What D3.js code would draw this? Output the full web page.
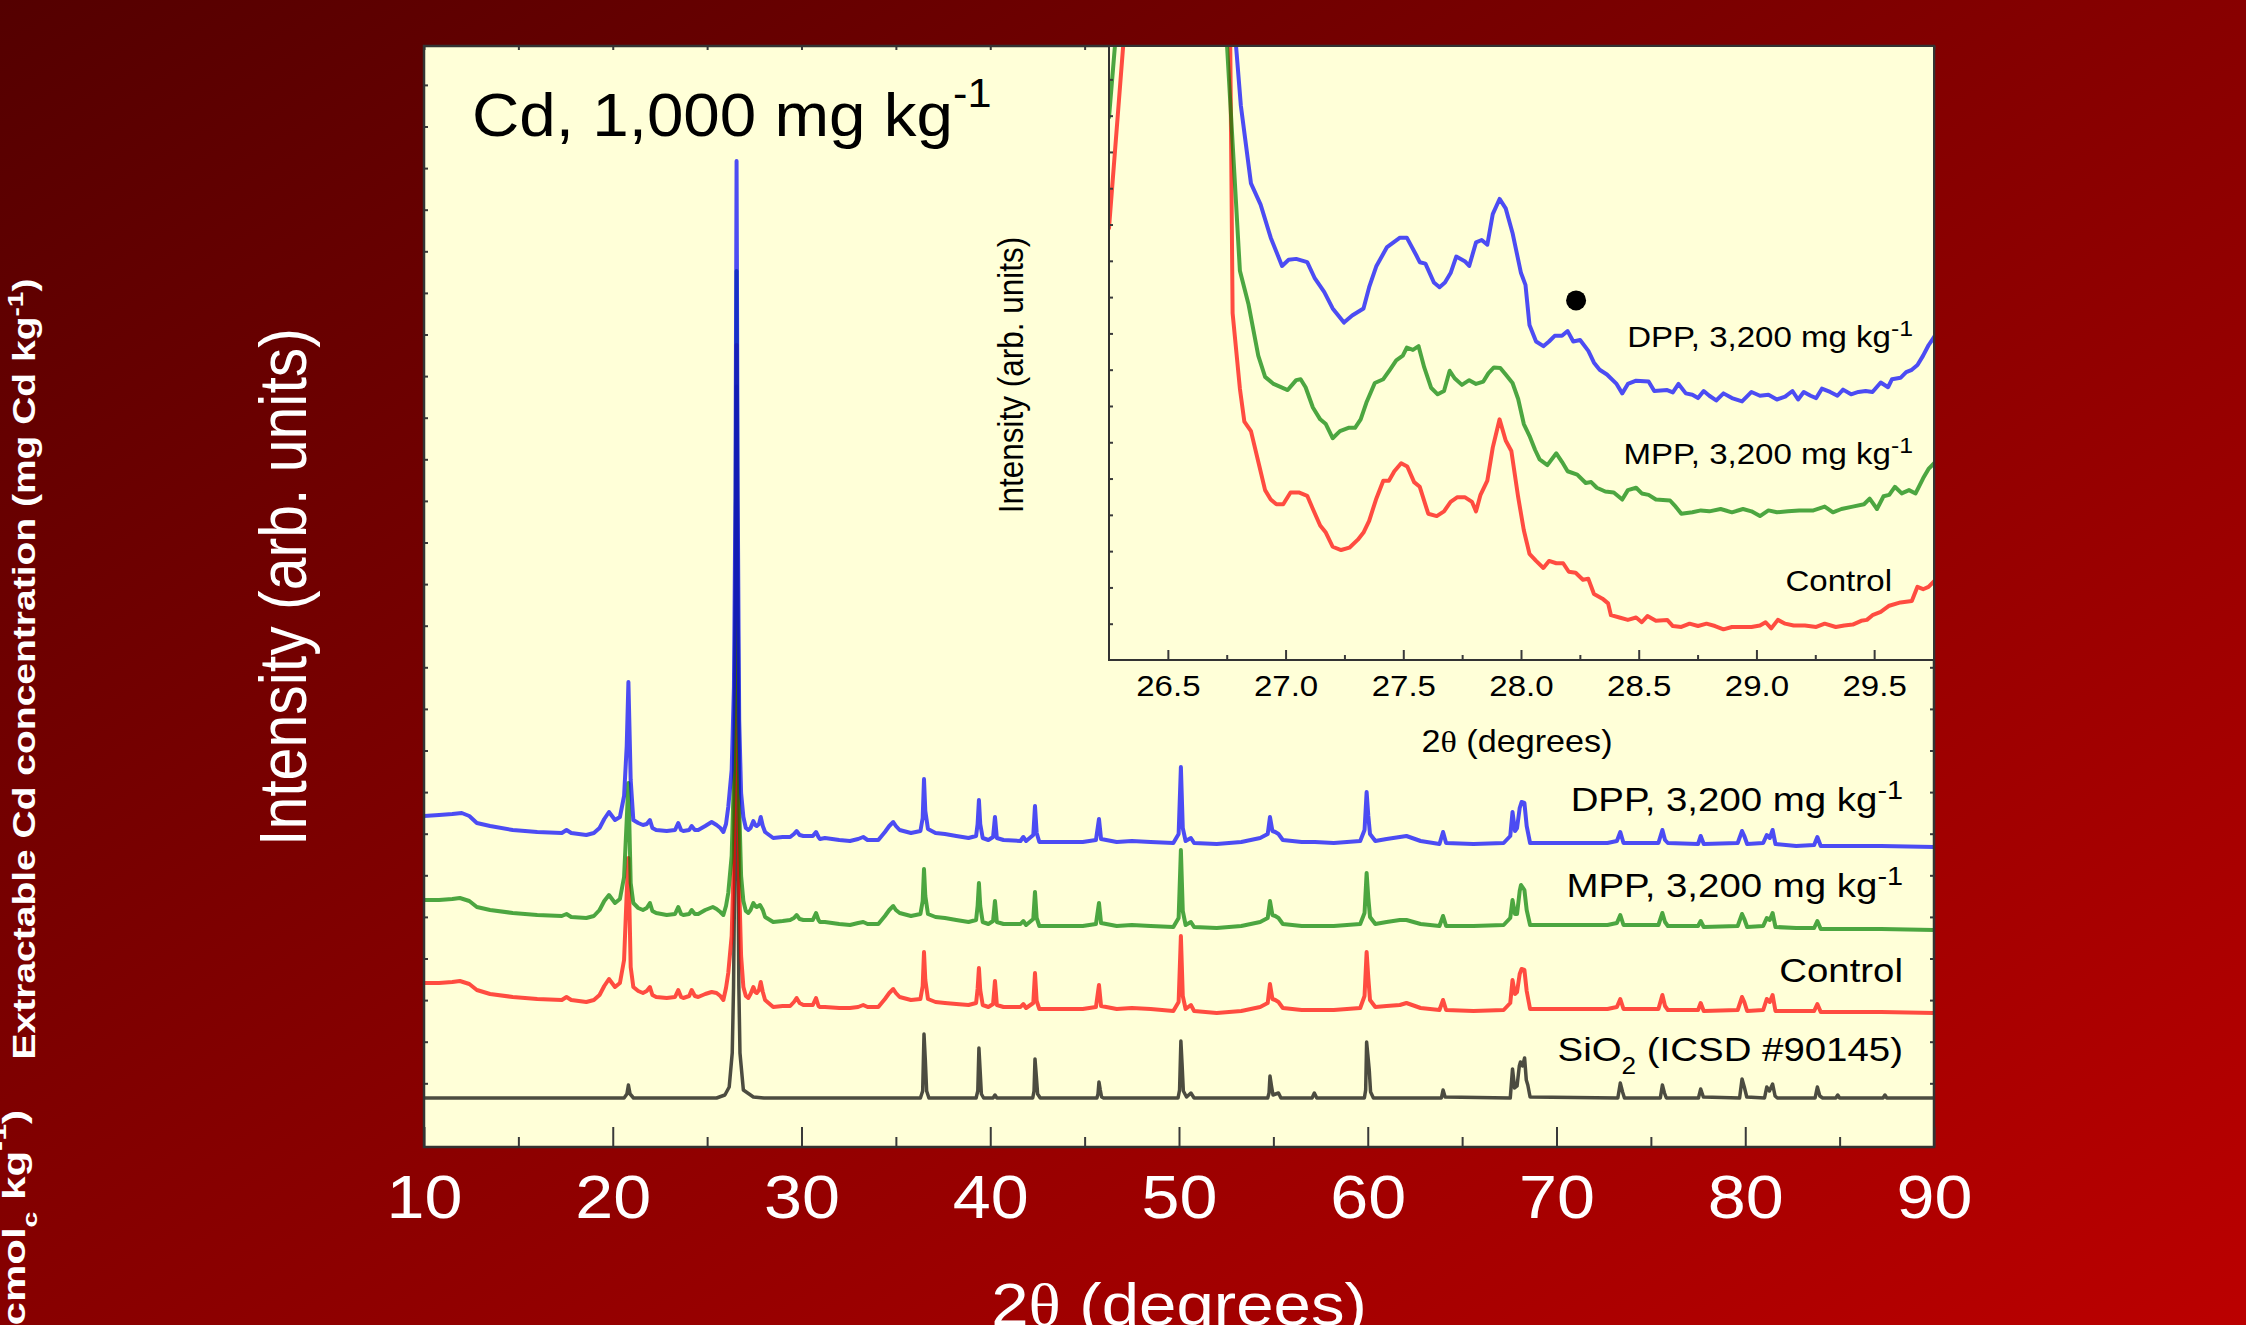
<!DOCTYPE html>
<html><head><meta charset="utf-8">
<script src="https://cdn.jsdelivr.net/npm/d3@7"></script>
<style>html,body{margin:0;padding:0;overflow:hidden;background:#700000}</style>
</head><body>
<svg id="chart" width="2246" height="1325"></svg>
<script>
// ---------- DATA ----------
// Main pattern: [2theta (deg), intensity (arb. units, stacked)]
const dppMain = [[10.0,330],[10.8,331],[11.5,332],[12.0,333],[12.4,330],[12.8,323],[13.5,320],[14.7,316],[16.0,314],[17.3,313],[17.55,316],[17.8,313],[18.6,311],[19.0,313],[19.3,318],[19.55,327],[19.8,334],[20.12,326],[20.38,329],[20.6,350],[20.74,400],[20.83,464],[20.95,366],[21.09,326],[21.35,323],[21.6,321],[21.8,322],[21.97,326],[22.1,318],[22.3,316],[22.86,315],[23.3,316],[23.47,323],[23.62,316],[23.74,315],[24.05,316],[24.18,320],[24.35,316],[24.53,316],[24.9,320],[25.24,324],[25.5,321],[25.7,318],[25.86,314],[26.0,322],[26.12,339],[26.3,376],[26.42,459],[26.5,650],[26.56,985],[26.62,650],[26.7,426],[26.8,353],[26.92,329],[27.05,318],[27.18,316],[27.3,318],[27.45,325],[27.55,321],[27.63,320],[27.75,322],[27.84,329],[27.95,320],[28.07,314],[28.5,308],[29.0,309],[29.4,309],[29.6,312],[29.74,315],[29.9,311],[30.1,310],[30.6,310],[30.77,314],[30.9,309],[30.98,307],[31.24,308],[32.0,306],[32.57,305],[33.0,307],[33.27,309],[33.5,306],[34.07,306],[34.42,314],[34.65,320],[34.86,324],[35.0,320],[35.2,316],[35.8,313],[36.3,315],[36.42,328],[36.49,367],[36.56,335],[36.7,317],[37.1,313],[37.6,312],[38.2,310],[38.85,308],[39.25,310],[39.33,322],[39.40,346],[39.47,322],[39.6,308],[39.9,306],[40.15,309],[40.25,329],[40.35,308],[40.7,306],[41.6,305],[41.75,309],[41.9,305],[42.28,311],[42.37,340],[42.46,313],[42.6,304],[43.5,304],[44.9,304],[45.6,306],[45.76,327],[45.87,307],[46.7,304],[47.5,305],[48.5,304],[49.7,303],[49.98,312],[50.1,379],[50.2,318],[50.35,305],[50.63,308],[50.8,303],[52.0,302],[53.3,304],[54.3,308],[54.7,312],[54.82,329],[54.95,315],[55.1,314],[55.27,312],[55.5,306],[56.5,304],[57.2,304],[58.2,303],[59.6,305],[59.83,316],[59.94,354],[60.03,330],[60.12,312],[60.4,305],[61.0,307],[61.7,309],[62.05,310],[62.8,305],[63.8,302],[63.99,314],[64.15,303],[65.6,302],[67.2,303],[67.55,310],[67.67,334],[67.8,315],[67.91,318],[68.05,338],[68.15,344],[68.3,343],[68.42,320],[68.6,303],[69.0,303],[71.0,303],[72.7,303],[73.2,305],[73.38,314],[73.55,303],[75.4,303],[75.61,316],[75.75,306],[75.9,303],[77.5,302],[77.64,310],[77.8,302],[79.6,303],[79.83,315],[79.95,310],[80.1,302],[80.95,303],[81.14,311],[81.3,308],[81.45,316],[81.6,302],[82.7,300],[83.65,301],[83.82,309],[84.0,300],[87.2,300],[90.0,299]];
const mppMain = [[10.0,246],[10.8,246],[11.5,247],[11.9,248],[12.4,245],[12.8,239],[13.5,236],[14.7,233],[16.0,231],[17.3,230],[17.55,232],[17.8,229],[18.6,228],[19.0,230],[19.3,236],[19.55,245],[19.8,251],[20.12,243],[20.38,247],[20.6,269],[20.74,326],[20.83,363],[20.95,263],[21.09,243],[21.35,238],[21.6,236],[21.8,238],[21.97,243],[22.1,235],[22.3,233],[22.86,231],[23.3,232],[23.47,239],[23.62,232],[23.74,231],[24.05,232],[24.18,236],[24.35,232],[24.53,232],[24.9,236],[25.3,239],[25.5,237],[25.7,234],[25.86,231],[26.0,240],[26.12,253],[26.3,290],[26.42,370],[26.5,560],[26.56,875],[26.62,560],[26.7,340],[26.8,270],[26.92,245],[27.05,235],[27.18,233],[27.3,236],[27.45,243],[27.55,240],[27.63,239],[27.72,240],[27.8,241],[27.95,236],[28.07,229],[28.5,224],[29.0,225],[29.4,226],[29.6,228],[29.74,231],[29.9,227],[30.1,226],[30.6,226],[30.77,233],[30.9,226],[30.98,224],[31.24,224],[32.0,222],[32.57,221],[33.0,223],[33.27,224],[33.5,222],[34.07,222],[34.42,230],[34.65,236],[34.86,240],[35.0,236],[35.2,233],[35.8,230],[36.3,232],[36.42,245],[36.49,277],[36.56,250],[36.7,232],[37.1,229],[37.6,228],[38.2,226],[38.85,224],[39.25,226],[39.33,240],[39.40,263],[39.47,240],[39.6,224],[39.9,222],[40.15,225],[40.25,245],[40.35,224],[40.7,222],[41.6,222],[41.75,225],[41.9,221],[42.28,227],[42.37,254],[42.46,228],[42.6,220],[43.5,220],[44.9,220],[45.6,222],[45.76,243],[45.87,223],[46.7,220],[47.5,221],[48.5,220],[49.7,219],[49.98,228],[50.1,296],[50.2,235],[50.35,221],[50.63,224],[50.8,219],[52.0,218],[53.3,220],[54.3,224],[54.7,228],[54.82,245],[54.95,231],[55.1,230],[55.27,228],[55.5,222],[56.5,220],[57.2,220],[58.2,220],[59.6,222],[59.83,233],[59.94,273],[60.03,248],[60.12,229],[60.4,222],[61.0,224],[61.7,226],[62.05,226],[62.8,222],[63.8,220],[63.99,230],[64.15,220],[65.6,220],[67.2,221],[67.55,228],[67.67,246],[67.8,232],[67.91,232],[68.05,255],[68.12,261],[68.3,256],[68.42,236],[68.6,221],[69.0,221],[71.0,221],[72.7,221],[73.2,223],[73.38,231],[73.55,221],[75.4,221],[75.61,233],[75.75,224],[75.9,220],[77.5,220],[77.64,225],[77.8,219],[79.6,220],[79.83,232],[79.95,227],[80.1,219],[80.95,220],[81.14,228],[81.3,226],[81.45,233],[81.6,219],[82.7,218],[83.65,218],[83.82,225],[84.0,217],[87.2,217],[90.0,216]];
const controlMain = [[10.0,163],[10.8,163],[11.5,164],[11.9,165],[12.4,162],[12.8,156],[13.5,152],[14.7,149],[16.0,147],[17.3,146],[17.55,149],[17.8,146],[18.6,144],[19.0,146],[19.3,151],[19.55,160],[19.8,167],[20.12,159],[20.38,163],[20.6,186],[20.74,253],[20.83,288],[20.95,179],[21.09,159],[21.35,155],[21.6,153],[21.8,155],[21.97,159],[22.1,151],[22.3,149],[22.86,148],[23.3,149],[23.47,156],[23.62,149],[23.74,148],[24.05,150],[24.18,156],[24.35,150],[24.53,149],[24.9,152],[25.24,154],[25.5,153],[25.7,150],[25.86,146],[26.0,158],[26.12,173],[26.3,210],[26.42,290],[26.5,490],[26.56,801],[26.62,490],[26.7,260],[26.8,190],[26.92,159],[27.05,150],[27.18,148],[27.3,152],[27.45,159],[27.55,154],[27.63,153],[27.75,156],[27.84,164],[27.95,154],[28.07,146],[28.5,139],[29.0,140],[29.4,140],[29.6,144],[29.74,148],[29.9,143],[30.1,141],[30.6,141],[30.77,148],[30.9,140],[30.98,139],[31.24,139],[32.0,138],[32.57,138],[33.0,139],[33.27,141],[33.5,139],[34.07,139],[34.42,147],[34.65,153],[34.86,157],[35.0,153],[35.2,149],[35.8,146],[36.3,147],[36.42,160],[36.49,194],[36.56,166],[36.7,147],[37.1,144],[37.6,143],[38.2,142],[38.85,141],[39.25,143],[39.33,157],[39.40,178],[39.47,156],[39.6,141],[39.9,139],[40.15,142],[40.25,165],[40.35,141],[40.7,139],[41.6,139],[41.75,142],[41.9,138],[42.28,143],[42.37,173],[42.46,145],[42.6,137],[43.5,137],[44.9,137],[45.6,139],[45.76,161],[45.87,140],[46.7,137],[47.5,138],[48.5,137],[49.7,135],[49.98,144],[50.1,210],[50.2,150],[50.35,137],[50.63,141],[50.8,135],[52.0,133],[53.3,135],[54.3,139],[54.7,143],[54.82,162],[54.95,147],[55.1,146],[55.27,144],[55.5,138],[56.5,136],[57.2,136],[58.2,136],[59.6,138],[59.83,150],[59.94,194],[60.03,168],[60.12,146],[60.4,139],[61.0,140],[61.7,141],[62.05,143],[62.8,138],[63.8,136],[63.99,146],[64.15,136],[65.6,135],[67.2,136],[67.55,143],[67.67,166],[67.8,152],[67.91,154],[68.05,172],[68.15,177],[68.3,176],[68.42,155],[68.6,137],[69.0,137],[71.0,137],[72.7,137],[73.2,139],[73.38,147],[73.55,137],[75.4,137],[75.61,151],[75.75,140],[75.9,136],[77.5,136],[77.64,143],[77.8,135],[79.6,136],[79.83,149],[79.95,144],[80.1,135],[80.95,136],[81.14,147],[81.3,144],[81.45,151],[81.6,135],[82.7,135],[83.65,135],[83.82,142],[84.0,134],[87.2,134],[90.0,133]];
const sio2Main = [[10.0,48],[20.6,48],[20.75,52],[20.83,61],[20.92,52],[21.1,48],[25.5,48],[25.94,51],[26.17,59],[26.33,93],[26.4,159],[26.47,292],[26.56,760],[26.63,300],[26.68,160],[26.74,93],[26.92,56],[27.45,49],[28.0,48],[36.3,48],[36.42,55],[36.49,112],[36.56,86],[36.63,55],[36.75,48],[39.25,48],[39.34,55],[39.40,98],[39.46,77],[39.53,52],[39.65,48],[40.15,48],[40.25,51],[40.35,48],[42.25,48],[42.32,55],[42.37,87],[42.44,70],[42.51,52],[42.65,48],[45.65,48],[45.71,52],[45.76,64],[45.83,56],[45.9,49],[46.0,48],[49.95,48],[50.03,56],[50.1,105],[50.16,83],[50.23,55],[50.4,49],[50.63,53],[50.8,48],[54.7,48],[54.77,53],[54.82,70],[54.9,60],[54.98,51],[55.27,53],[55.4,48],[57.05,48],[57.17,53],[57.3,48],[59.82,48],[59.89,56],[59.94,104],[60.0,92],[60.08,76],[60.15,54],[60.3,48],[63.9,48],[63.99,56],[64.1,49],[67.55,48],[67.67,77],[67.78,58],[67.91,60],[68.03,80],[68.09,84],[68.2,80],[68.31,88],[68.4,66],[68.48,61],[68.6,49],[73.25,48],[73.38,63],[73.5,54],[73.6,48],[75.5,48],[75.61,61],[75.72,53],[75.82,48],[77.52,48],[77.64,57],[77.78,49],[79.7,48],[79.83,67],[79.95,59],[80.08,49],[81.02,48],[81.14,59],[81.28,55],[81.45,62],[81.58,50],[81.7,48],[83.7,48],[83.82,59],[83.95,50],[84.1,48],[84.8,48],[84.9,51],[85.0,48],[87.3,48],[87.4,51],[87.5,48],[90.0,48]];

// Inset (26.25–29.75 deg, magnified intensity)
const dppInset = [[26.24,1280],[26.3,1700],[26.6,3000],[26.72,2000],[26.789,1305],[26.810,1175],[26.853,1010],[26.894,965],[26.937,895],[26.985,835],[27.013,848],[27.045,850],[27.092,843],[27.123,810],[27.164,780],[27.200,745],[27.248,715],[27.283,730],[27.331,745],[27.355,790],[27.386,835],[27.431,875],[27.486,895],[27.515,895],[27.558,855],[27.570,843],[27.594,840],[27.630,800],[27.654,790],[27.677,800],[27.701,820],[27.725,855],[27.761,845],[27.780,835],[27.809,885],[27.833,890],[27.857,880],[27.880,945],[27.909,977],[27.935,957],[27.964,905],[28.000,820],[28.019,795],[28.036,710],[28.064,675],[28.095,665],[28.119,675],[28.143,687],[28.174,687],[28.198,697],[28.222,675],[28.251,678],[28.286,655],[28.310,630],[28.334,615],[28.365,605],[28.406,585],[28.430,565],[28.454,585],[28.489,592],[28.542,590],[28.566,570],[28.621,572],[28.645,567],[28.669,585],[28.700,565],[28.728,562],[28.752,555],[28.776,570],[28.800,560],[28.829,550],[28.860,565],[28.896,555],[28.939,548],[28.979,568],[29.015,560],[29.051,562],[29.087,552],[29.122,558],[29.153,570],[29.177,552],[29.201,568],[29.230,560],[29.254,555],[29.278,575],[29.313,568],[29.344,560],[29.368,573],[29.402,563],[29.433,568],[29.464,570],[29.493,568],[29.528,588],[29.559,578],[29.576,595],[29.612,598],[29.636,610],[29.660,615],[29.684,625],[29.708,645],[29.731,667],[29.755,685]];
const mppInset = [[26.25,1150],[26.275,1300],[26.4,2200],[26.6,2800],[26.7,2000],[26.751,1305],[26.782,1035],[26.806,825],[26.842,755],[26.884,645],[26.913,600],[26.949,585],[27.009,572],[27.045,593],[27.064,595],[27.085,578],[27.116,535],[27.147,510],[27.171,500],[27.200,470],[27.231,485],[27.267,492],[27.295,492],[27.319,510],[27.343,545],[27.379,587],[27.415,595],[27.443,615],[27.470,635],[27.498,645],[27.515,662],[27.541,657],[27.565,665],[27.589,620],[27.618,577],[27.646,563],[27.673,570],[27.697,613],[27.718,597],[27.749,583],[27.780,593],[27.809,585],[27.840,590],[27.862,608],[27.885,620],[27.912,619],[27.935,605],[27.964,587],[27.988,553],[28.012,500],[28.036,475],[28.060,445],[28.079,425],[28.112,413],[28.150,438],[28.174,420],[28.198,400],[28.239,393],[28.275,375],[28.298,377],[28.322,365],[28.358,357],[28.394,355],[28.430,340],[28.454,360],[28.489,365],[28.513,353],[28.542,350],[28.573,340],[28.633,338],[28.657,325],[28.681,310],[28.728,313],[28.764,317],[28.800,315],[28.848,320],[28.896,313],[28.943,320],[28.979,315],[29.015,305],[29.051,317],[29.087,313],[29.134,315],[29.182,317],[29.242,317],[29.290,325],[29.325,313],[29.361,320],[29.409,325],[29.457,330],[29.481,342],[29.512,320],[29.540,347],[29.564,350],[29.588,367],[29.617,353],[29.648,360],[29.676,353],[29.708,385],[29.731,405],[29.755,417]];
const controlInset = [[26.25,915],[26.31,1300],[26.45,2000],[26.6,2600],[26.72,1800],[26.765,1305],[26.775,735],[26.806,575],[26.825,505],[26.853,485],[26.889,410],[26.913,360],[26.937,340],[26.961,330],[26.990,330],[27.021,355],[27.056,355],[27.092,348],[27.116,320],[27.147,285],[27.171,270],[27.200,240],[27.236,233],[27.271,238],[27.307,255],[27.331,270],[27.355,295],[27.384,340],[27.415,380],[27.439,380],[27.462,400],[27.491,417],[27.517,410],[27.546,377],[27.570,367],[27.606,310],[27.642,305],[27.673,315],[27.701,335],[27.730,345],[27.761,345],[27.792,335],[27.809,315],[27.828,350],[27.857,380],[27.880,450],[27.909,510],[27.935,465],[27.959,443],[27.988,345],[28.012,275],[28.036,225],[28.064,210],[28.095,195],[28.119,210],[28.150,205],[28.179,205],[28.203,187],[28.232,185],[28.263,170],[28.286,172],[28.310,140],[28.346,130],[28.370,120],[28.382,95],[28.418,90],[28.454,85],[28.489,90],[28.513,80],[28.537,93],[28.573,83],[28.621,85],[28.645,72],[28.681,70],[28.716,77],[28.752,72],[28.788,77],[28.824,72],[28.860,65],[28.896,70],[28.931,70],[28.979,70],[29.015,73],[29.039,80],[29.063,67],[29.091,85],[29.122,77],[29.158,73],[29.206,73],[29.254,70],[29.290,77],[29.337,70],[29.373,73],[29.409,75],[29.445,83],[29.469,85],[29.493,95],[29.528,102],[29.564,115],[29.612,122],[29.660,125],[29.684,155],[29.708,150],[29.731,155],[29.755,167]];
const insetMarker = [[28.234, 762]];

const mainXTicks = [10,20,30,40,50,60,70,80,90];
const mainXMinor = [15,25,35,45,55,65,75,85];
const insetXTicks = [26.5,27.0,27.5,28.0,28.5,29.0,29.5];
const insetXMinor = [26.75,27.25,27.75,28.25,28.75,29.25];

const titleText = ["Cd, 1,000 mg kg", "-1"];
const seriesLabel = {
  dpp: ["DPP, 3,200 mg kg", "-1"],
  mpp: ["MPP, 3,200 mg kg", "-1"],
  control: ["Control"],
  sio2: ["SiO", "2", " (ICSD #90145)"]
};
const yTitle = "Intensity (arb. units)";
const xTitle = ["2", "\u03B8", " (degrees)"];

// ---------- DRAWING ----------
const W = 2246, H = 1325;
const FONT = "'Liberation Sans', Arial, Helvetica, sans-serif";
const SX = 1.12; // horizontal stretch of the original artwork
const svg = d3.select('#chart');
const defs = svg.append('defs');
const g0 = defs.append('linearGradient').attr('id','bg').attr('x1',0).attr('y1',0).attr('x2',1).attr('y2',1);
g0.append('stop').attr('offset','0%').attr('stop-color','#540000');
g0.append('stop').attr('offset','100%').attr('stop-color','#bb0000');
svg.append('rect').attr('width',W).attr('height',H).attr('fill','url(#bg)');

const P = {l:424, r:1934, t:46, b:1147};
const x = d3.scaleLinear().domain([10,90]).range([P.l,P.r]);
const y = d3.scaleLinear().domain([0,1100]).range([1146,46]);

const I = {l:1109, r:1933, t:47, b:660};
const xi = d3.scaleLinear().domain([26.25,29.75]).range([I.l,I.r]);
const yi = d3.scaleLinear().domain([0,1299]).range([I.b,I.t]);

defs.append('clipPath').attr('id','clipMain').append('rect')
  .attr('x',P.l).attr('y',P.t).attr('width',P.r-P.l).attr('height',P.b-P.t);
defs.append('clipPath').attr('id','clipInset').append('rect')
  .attr('x',I.l+1).attr('y',I.t).attr('width',I.r-I.l-1).attr('height',I.b-I.t-1);

svg.append('rect').attr('x',P.l).attr('y',P.t).attr('width',P.r-P.l).attr('height',P.b-P.t).attr('fill','#ffffd8');

function styleAxis(g){ g.select('.domain').remove(); g.selectAll('line').attr('stroke','#3a3a3a').attr('stroke-width',2); }

// main ticks
svg.append('g').attr('transform',`translate(0,${P.b})`)
  .call(d3.axisBottom(x).tickValues(mainXMinor).tickSize(-10).tickFormat(''))
  .call(styleAxis);
const xAx = svg.append('g').attr('transform',`translate(0,${P.b})`)
  .call(d3.axisBottom(x).tickValues(mainXTicks).tickSize(-20).tickFormat(d3.format('d')))
  .call(styleAxis);
xAx.selectAll('text').attr('y',0).attr('dy',0)
  .attr('transform',`translate(0,71) scale(${SX},1)`)
  .attr('fill','#fff').attr('font-size',61).attr('font-family',FONT);
const yTicks = d3.range(62.7, 1100, 41.6);
svg.append('g').attr('transform',`translate(${P.l},0)`)
  .call(d3.axisLeft(y).tickValues(yTicks).tickSize(-4).tickFormat('')).call(styleAxis);
svg.append('g').attr('transform',`translate(${P.r},0)`)
  .call(d3.axisRight(y).tickValues(yTicks).tickSize(-4).tickFormat('')).call(styleAxis);
svg.append('g').attr('transform',`translate(0,${P.t})`)
  .call(d3.axisTop(x).tickValues(d3.range(10,91,5)).tickSize(-4).tickFormat('')).call(styleAxis);

// main curves
const line = d3.line().x(d=>x(d[0])).y(d=>y(d[1]));
const main = svg.append('g').attr('clip-path','url(#clipMain)');
const mainSeries = [
  {d:sio2Main, c:'#000000', w:3.5},
  {d:controlMain, c:'#ff0000', w:4},
  {d:mppMain, c:'#008000', w:4},
  {d:dppMain, c:'#0000ff', w:4}
];
main.selectAll('path.s').data(mainSeries).join('path').attr('class','s')
  .attr('d',s=>line(s.d)).attr('fill','none').attr('stroke',s=>s.c)
  .attr('stroke-opacity',0.7).attr('stroke-width',s=>s.w)
  .attr('stroke-linejoin','round').attr('stroke-linecap','round');

// frame
svg.append('rect').attr('x',P.l).attr('y',P.t).attr('width',P.r-P.l).attr('height',P.b-P.t)
  .attr('fill','none').attr('stroke','#333').attr('stroke-width',2.5);

// ----- inset -----
svg.append('rect').attr('x',I.l).attr('y',I.t).attr('width',I.r-I.l).attr('height',I.b-I.t).attr('fill','#ffffd8');
const ins = svg.append('g').attr('clip-path','url(#clipInset)');
const iline = d3.line().x(d=>xi(d[0])).y(d=>yi(d[1]));
const insetSeries = [
  {d:controlInset, c:'#ff0000'},
  {d:mppInset, c:'#008000'},
  {d:dppInset, c:'#0000ff'}
];
ins.selectAll('path.s').data(insetSeries).join('path').attr('class','s')
  .attr('d',s=>iline(s.d)).attr('fill','none').attr('stroke',s=>s.c)
  .attr('stroke-opacity',0.7).attr('stroke-width',4)
  .attr('stroke-linejoin','round').attr('stroke-linecap','round');
ins.selectAll('circle').data(insetMarker).join('circle')
  .attr('cx',d=>xi(d[0])).attr('cy',d=>yi(d[1])).attr('r',10).attr('fill','#000');

svg.append('g').attr('transform',`translate(0,${I.b})`)
  .call(d3.axisBottom(xi).tickValues(insetXMinor).tickSize(-5).tickFormat('')).call(styleAxis);
const xiAx = svg.append('g').attr('transform',`translate(0,${I.b})`)
  .call(d3.axisBottom(xi).tickValues(insetXTicks).tickSize(-10).tickFormat(d3.format('.1f'))).call(styleAxis);
xiAx.selectAll('text').attr('y',0).attr('dy',0)
  .attr('transform',`translate(0,36) scale(${SX},1)`)
  .attr('fill','#000').attr('font-size',29.5).attr('font-family',FONT);
svg.append('g').attr('transform',`translate(${I.l},0)`)
  .call(d3.axisLeft(yi).tickValues(d3.range(1,17).map(k=>k*76.9)).tickSize(-4).tickFormat('')).call(styleAxis);
svg.append('path').attr('d',`M${I.l},${I.t}V${I.b}H${I.r}`).attr('fill','none').attr('stroke','#333').attr('stroke-width',2);

// ---------- TEXT ----------
function rich(parent, tx, ty, parts, opts){
  const size = opts.size;
  const t = parent.append('text')
    .attr('transform', `translate(${tx},${ty}) scale(${opts.sx||SX},1)` + (opts.rot?` rotate(${opts.rot})`:''))
    .attr('font-family', FONT).attr('font-size', size)
    .attr('font-weight', opts.bold?'bold':'normal')
    .attr('fill', opts.fill||'#000').attr('text-anchor', opts.anchor||'start');
  let shift = 0;
  parts.forEach(p=>{
    const ts = t.append('tspan').text(p.t);
    let target = 0;
    if (p.sup) { target = -size*(p.supDy||0.4); ts.attr('font-size', size*(p.supSize||0.72)); }
    if (p.sub) { target = size*0.38; ts.attr('font-size', size*0.68); }
    if (p.serif) ts.attr('font-family', "'Liberation Serif', 'Times New Roman', serif");
    if (target !== shift) { ts.attr('dy', target - shift); shift = target; }
  });
  return t;
}

// title
rich(svg, 472, 136, [{t:titleText[0]},{t:titleText[1], sup:true, supSize:0.66, supDy:0.47}], {size:61, sx:1.075});

// series labels (main)
const supM = {sup:true, supSize:0.75, supDy:0.36};
const LS = 34, LSX = 1.13;
rich(svg, 1903, 811, [{t:seriesLabel.dpp[0]}, Object.assign({t:seriesLabel.dpp[1]}, supM)], {size:LS, sx:LSX, anchor:'end'});
rich(svg, 1903, 897, [{t:seriesLabel.mpp[0]}, Object.assign({t:seriesLabel.mpp[1]}, supM)], {size:LS, sx:LSX, anchor:'end'});
rich(svg, 1903, 982, [{t:seriesLabel.control[0]}], {size:LS, sx:LSX, anchor:'end'});
rich(svg, 1903, 1061, [{t:seriesLabel.sio2[0]}, {t:seriesLabel.sio2[1], sub:true}, {t:seriesLabel.sio2[2]}], {size:LS, sx:LSX, anchor:'end'});

// inset labels
rich(svg, 1913, 347, [{t:seriesLabel.dpp[0]}, Object.assign({t:seriesLabel.dpp[1]}, supM)], {size:29.5, anchor:'end'});
rich(svg, 1913, 464, [{t:seriesLabel.mpp[0]}, Object.assign({t:seriesLabel.mpp[1]}, supM)], {size:29.5, anchor:'end'});
rich(svg, 1892, 591, [{t:seriesLabel.control[0]}], {size:29.5, anchor:'end'});

// axis titles
rich(svg, 1179, 1325, [{t:xTitle[0]},{t:xTitle[1], serif:true},{t:xTitle[2]}], {size:60, anchor:'middle', fill:'#fff'});
rich(svg, 306, 587, [{t:yTitle}], {size:59, anchor:'middle', fill:'#fff', rot:-90});
rich(svg, 1517, 752, [{t:xTitle[0]},{t:xTitle[1], serif:true},{t:xTitle[2]}], {size:30.5, anchor:'middle'});
rich(svg, 1023, 375, [{t:yTitle}], {size:31.5, anchor:'middle', rot:-90});

// clipped labels of the neighbouring panel (left edge)
rich(svg, 35, 669, [{t:"Extractable Cd concentration (mg Cd kg"},{t:"-1", sup:true},{t:")"}],
  {size:39, bold:true, anchor:'middle', fill:'#fff', rot:-90, sx:0.8});
rich(svg, 25, 1110, [{t:"CEC (cmol"},{t:"c", sub:true},{t:" kg"},{t:"-1", sup:true, supDy:0.62},{t:")"}],
  {size:42, bold:true, anchor:'end', fill:'#fff', rot:-90, sx:0.74});
</script>
</body></html>
